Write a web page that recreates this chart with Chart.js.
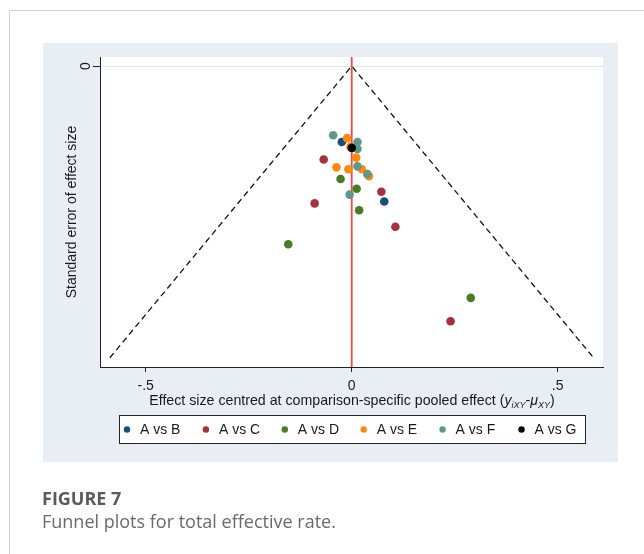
<!DOCTYPE html>
<html>
<head>
<meta charset="utf-8">
<script src="https://cdn.jsdelivr.net/npm/chart.js@4.4.1/dist/chart.umd.min.js"></script>
<style>
  html, body { margin: 0; padding: 0; background: #fff; }
  #wrap { position: relative; width: 644px; height: 554px; }
</style>
</head>
<body>
<div id="wrap"><canvas id="myChart" width="644" height="554"></canvas></div>
<script>
// comparisons
const labels = ['A vs B', 'A vs C', 'A vs D', 'A vs E', 'A vs F', 'A vs G'];

// effect size centred at pooled effect (x) and its standard error (y)
const abEffect = [-0.024, 0.079];
const abSE = [0.078, 0.139];
const acEffect = [-0.068, 0.072, -0.090, 0.106, 0.240];
const acSE = [0.096, 0.129, 0.141, 0.165, 0.262];
const adEffect = [-0.027, 0.012, 0.018, -0.154, 0.289];
const adSE = [0.116, 0.126, 0.148, 0.183, 0.238];
const aeEffect = [-0.011, -0.003, 0.011, -0.037, -0.008, 0.025, 0.042];
const aeSE = [0.074, 0.083, 0.094, 0.104, 0.106, 0.106, 0.113];
const afEffect = [-0.045, 0.014, 0.014, 0.014, 0.038, -0.005];
const afSE = [0.071, 0.078, 0.085, 0.103, 0.111, 0.132];
const agEffect = [0.000];
const agSE = [0.084];

// pseudo 95% confidence limits of the funnel and the pooled-effect line
const funnelEffect = [-0.587, 0, 0.587];
const funnelSE = [0.2995, 0, 0.2995];
const pooledEffect = [0, 0];
const pooledSE = [-0.0093, 0.309];

// axis ticks
const xTicks = [-0.5, 0, 0.5];
const xTickLabels = ['-.5', '0', '.5'];
const yTicks = [0];
const yTickLabels = ['0'];

const colors = ['#174f7a', '#a5323a', '#4b7a24', '#ff8a12', '#62968a', '#000000'];
const effects = [abEffect, acEffect, adEffect, aeEffect, afEffect, agEffect];
const ses = [abSE, acSE, adSE, aeSE, afSE, agSE];

const toPoints = (xs, ys) => xs.map((x, i) => ({x: x, y: ys[i]}));

const pointSets = labels.map((lab, i) => ({
  type: 'scatter',
  label: lab,
  data: toPoints(effects[i], ses[i]),
  backgroundColor: colors[i],
  borderWidth: 0,
  pointRadius: 4.3,
  order: labels.length - i
}));

const FONT = '"Liberation Sans", Arial, sans-serif';

const framePlugin = {
  id: 'frame',
  beforeDraw(chart) {
    const ctx = chart.ctx;
    const a = chart.chartArea;
    ctx.save();
    ctx.fillStyle = '#fff';
    ctx.fillRect(0, 0, chart.width, chart.height);
    // page border
    ctx.strokeStyle = '#cfcfcf';
    ctx.lineWidth = 1;
    ctx.beginPath();
    ctx.moveTo(9.5, 554);
    ctx.lineTo(9.5, 10.5);
    ctx.lineTo(644, 10.5);
    ctx.stroke();
    // graph region
    ctx.fillStyle = '#e8eef3';
    ctx.fillRect(43, 43, 575, 419);
    // plot region
    ctx.fillStyle = '#fff';
    ctx.fillRect(a.left, a.top, a.right - a.left, a.bottom - a.top);
    ctx.restore();
  },
  afterDraw(chart) {
    const ctx = chart.ctx;
    ctx.save();
    // x axis title with subscripts
    const pieces = [
      {t: 'Effect size centred at comparison-specific pooled effect (', f: '14.2px ' + FONT, dy: 0},
      {t: 'y', f: 'italic 14.2px ' + FONT, dy: 0},
      {t: 'iXY', f: 'italic 9px ' + FONT, dy: 3},
      {t: '-', f: '14.2px ' + FONT, dy: 0},
      {t: 'μ', f: 'italic 14.2px ' + FONT, dy: 0},
      {t: 'XY', f: 'italic 9px ' + FONT, dy: 3},
      {t: ')', f: '14.2px ' + FONT, dy: 0}
    ];
    let w = 0;
    pieces.forEach(p => { ctx.font = p.f; p.w = ctx.measureText(p.t).width; w += p.w; });
    let x = 352 - w / 2;
    ctx.fillStyle = '#1a1a1a';
    ctx.textBaseline = 'alphabetic';
    ctx.textAlign = 'left';
    pieces.forEach(p => { ctx.font = p.f; ctx.fillText(p.t, x, 405 + p.dy); x += p.w; });

    // legend
    ctx.fillStyle = '#fff';
    ctx.fillRect(119.5, 415.5, 466, 28);
    ctx.strokeStyle = '#222';
    ctx.lineWidth = 1;
    ctx.strokeRect(119.5, 415.5, 466, 28);
    ctx.font = '14px ' + FONT;
    ctx.textBaseline = 'middle';
    labels.forEach((lab, i) => {
      const mx = 127 + i * 78.9;
      ctx.fillStyle = colors[i];
      ctx.beginPath();
      ctx.arc(mx, 429.5, 3.2, 0, Math.PI * 2);
      ctx.fill();
      ctx.fillStyle = '#1a1a1a';
      ctx.fillText(lab, mx + 13, 430);
    });

    // caption
    ctx.fillStyle = '#5a5a5a';
    ctx.font = 'bold 18px "Open Sans", sans-serif';
    ctx.textBaseline = 'alphabetic';
    ctx.fillText('FIGURE 7', 42, 505);
    ctx.fillStyle = '#6a6a6a';
    ctx.font = '18px "Open Sans", sans-serif';
    ctx.fillText('Funnel plots for total effective rate.', 42, 528);
    ctx.restore();
  }
};

const config = {
  data: {
    datasets: pointSets.concat([
      {
        type: 'line',
        label: 'funnel',
        data: toPoints(funnelEffect, funnelSE),
        borderColor: '#111',
        borderWidth: 1.3,
        borderDash: [6, 4],
        pointRadius: 0,
        fill: false,
        order: 20
      },
      {
        type: 'line',
        label: 'pooled',
        data: toPoints(pooledEffect, pooledSE),
        borderColor: '#f24848',
        borderWidth: 1.8,
        pointRadius: 0,
        fill: false,
        order: 19
      }
    ])
  },
  options: {
    responsive: false,
    animation: false,
    layout: {
      padding: {top: 57, right: 41, left: 0, bottom: 0}
    },
    plugins: {
      legend: {display: false},
      tooltip: {enabled: false}
    },
    scales: {
      x: {
        type: 'linear',
        min: -0.611,
        max: 0.610,
        afterFit(scale) { scale.height = 187; },
        afterBuildTicks(scale) { scale.ticks = xTicks.map(v => ({value: v})); },
        ticks: {
          callback: (v) => xTickLabels[xTicks.indexOf(v)],
          font: {family: FONT, size: 14},
          color: '#1a1a1a',
          padding: 6,
          maxRotation: 0
        },
        grid: {drawOnChartArea: false, tickLength: 5, tickColor: '#222'},
        border: {color: '#222', width: 1}
      },
      y: {
        type: 'linear',
        reverse: true,
        min: pooledSE[0],
        max: pooledSE[1],
        afterFit(scale) { scale.width = 100; },
        afterBuildTicks(scale) { scale.ticks = yTicks.map(v => ({value: v})); },
        ticks: {
          callback: (v) => yTickLabels[yTicks.indexOf(v)],
          font: {family: FONT, size: 14},
          color: '#1a1a1a',
          padding: 3,
          crossAlign: 'center',
          minRotation: 90,
          maxRotation: 90
        },
        grid: {color: '#dbe8ea', tickLength: 7, tickColor: '#222'},
        border: {color: '#222', width: 1},
        title: {
          display: true,
          text: 'Standard error of effect size',
          font: {family: FONT, size: 14},
          color: '#1a1a1a',
          padding: {top: 64}
        }
      }
    }
  },
  plugins: [framePlugin]
};

const myChart = new Chart(document.getElementById('myChart'), config);
</script>
</body>
</html>
